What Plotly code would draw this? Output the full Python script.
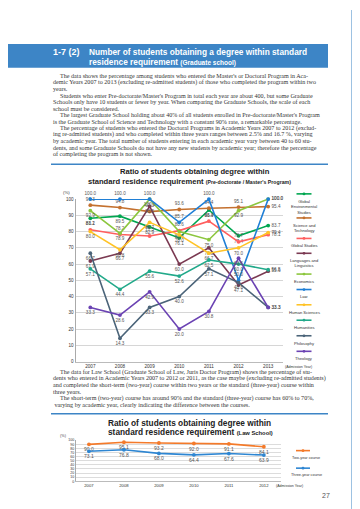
import plotly.graph_objects as go

W, H = 360, 509
def px(x): return x / W
def py(y): return 1 - y / H

SANS = "Liberation Sans, Arial, sans-serif"
NARROW = "Liberation Sans Narrow, Arial Narrow, Liberation Sans, sans-serif"
SERIF = "Liberation Serif, Times New Roman, serif"
BLUE = "#3d85c6"

# ---------------- data: chart 1 ----------------
years = ["2007", "2008", "2009", "2010", "2011", "2012", "2013"]
global_env = [88.2, 89.5, 82.9, 76.1, 93.3, 77.4, 83.7]
science_tech = [96.3, 94.8, 92.3, 93.6, 94.4, 95.1, 95.4]
global_studies = [81.1, 78.2, 77.3, 80.6, 86.4, 73.7, 78.1]
languages = [61.9, 66.7, 95.5, 60.0, 70.0, 47.1, 55.6]
economics = [92.9, 78.9, 100.0, 80.0, 75.0, 92.9, 100.0]
law = [100.0, 100.0, 100.0, 85.7, 100.0, 50.0, 100.0]
human_sciences = [80.0, 68.8, 85.7, 78.0, 66.7, 70.0, 79.4]
humanities = [57.1, 44.4, 55.6, 52.6, 62.5, 60.0, 56.5]
philosophy = [66.7, 14.3, 33.3, 40.0, 57.1, 48.6, 33.3]
theology = [33.3, 28.6, 42.9, 20.0, 30.8, 63.6, 33.3]

series_labels = ["Global<br>Environmental<br>Studies", "Science and<br>Technology", "Global Studies",
                 "Languages and<br>Linguistics", "Economics", "Law", "Human Sciences",
                 "Humanities", "Philosophy", "Theology"]

# ---------------- data: chart 2 ----------------
law_years = ["2007", "2008", "2009", "2010", "2011", "2012"]
two_year = [90.0, 95.1, 93.2, 92.0, 91.1, 84.1]
three_year = [73.1, 76.8, 68.0, 64.4, 67.6, 63.9]
law_labels = ["Two-year course", "Three-year course"]

# ---------------- styles ----------------
series_values = [global_env, science_tech, global_studies, languages, economics, law,
                 human_sciences, humanities, philosophy, theology]
series_colors = ["#00a650", "#c4712f", "#ff5f5f", "#7b3a52", "#8cc63e", "#1f7fd6",
                 "#ffc326", "#22a98a", "#4b6479", "#6b43b3"]
label_side = ["bottom center", "top center", "top center", "bottom center", "bottom center",
              "top center", "bottom center", "bottom center", "bottom center", "bottom center"]
legend_line_y = [185.7, 210, 230.7, 245.7, 266.7, 282.3, 297.7, 313.3, 329, 344.7]

fig = go.Figure()

for vals, col, side in zip(series_values, series_colors, label_side):
    pos = [side] * (len(vals) - 1) + ["middle right"]
    fig.add_trace(go.Scatter(
        x=years, y=vals, mode="lines+markers+text",
        text=[f"{v:.1f}" for v in vals], textposition=pos,
        textfont=dict(size=4.6, color="#555", family=SANS),
        line=dict(color=col, width=1.6), marker=dict(size=3.8, color=col),
        cliponaxis=False, showlegend=False, hoverinfo="skip",
        xaxis="x", yaxis="y"))

law_colors = ["#f47a2a", "#2e86d2"]
for vals, col in zip([two_year, three_year], law_colors):
    fig.add_trace(go.Scatter(
        x=law_years, y=vals, mode="lines+markers+text",
        text=[f"{v:.1f}" for v in vals], textposition="bottom center",
        textfont=dict(size=5, color="#555", family=SANS),
        line=dict(color=col, width=1.6), marker=dict(size=3.8, color=col),
        cliponaxis=False, showlegend=False, hoverinfo="skip",
        xaxis="x2", yaxis="y2"))

shapes = []
ann = []

# header band
shapes.append(dict(type="rect", xref="paper", yref="paper", x0=0, x1=px(320),
                   y0=py(58.3), y1=py(34.3), fillcolor=BLUE, line=dict(width=0), layer="below"))
ann.append(dict(x=px(43), y=py(42), text="<b>1-7 (2)</b>", xanchor="left", yanchor="middle",
                font=dict(size=9, color="white", family=SANS)))
ann.append(dict(x=px(79), y=py(42), text="<b>Number of students obtaining a degree within standard</b>",
                xanchor="left", yanchor="middle", font=dict(size=8.3, color="white", family=SANS)))
ann.append(dict(x=px(79), y=py(52.8),
                text="<b>residence requirement </b><span style='font-size:6.5px'><b>(Graduate school)</b></span>",
                xanchor="left", yanchor="middle", font=dict(size=8.3, color="white", family=SANS)))

# side strip and tab
shapes.append(dict(type="rect", xref="paper", yref="paper", x0=px(343.5), x1=1,
                   y0=0, y1=1, fillcolor=BLUE, line=dict(width=0), layer="below"))
shapes.append(dict(type="rect", xref="paper", yref="paper", x0=px(345), x1=1,
                   y0=py(162), y1=py(97), fillcolor="white", line=dict(width=0.6, color="#2f6fae"),
                   layer="below"))
ann.append(dict(x=px(351.5), y=py(130), text="<b>Sophia University</b>", textangle=90,
                xanchor="center", yanchor="middle", font=dict(size=4.6, color="#222", family=SANS)))

# body text block 1
block1 = [
    (True, "The data shows the percentage among students who entered the Master's or Doctoral Program in Aca-"),
    (False, "demic Years 2007 to 2013 (excluding re-admitted students) of those who completed the program within two"),
    (False, "years."),
    (True, "Students who enter Pre-doctorate/Master's Program in total each year are about 400, but some Graduate"),
    (False, "Schools only have 10 students or fewer by year. When comparing the Graduate Schools, the scale of each"),
    (False, "school must be considered."),
    (True, "The largest Graduate School holding about 40% of all students enrolled in Pre-doctorate/Master's Program"),
    (False, "is the Graduate School of Science and Technology with a constant 90% rate, a remarkable percentage."),
    (True, "The percentage of students who entered the Doctoral Programs in Academic Years 2007 to 2012 (exclud-"),
    (False, "ing re-admitted students) and who completed within three years ranges between 2.5% and 16.7 %, varying"),
    (False, "by academic year. The total number of students entering in each academic year vary between 40 to 60 stu-"),
    (False, "dents, and some Graduate Schools do not have any new students by academic year; therefore the percentage"),
    (False, "of completing the program is not shown."),
]
for i, (indent, line) in enumerate(block1):
    ann.append(dict(x=px(49.5 if indent else 43), y=py(67 + i * 6.55), text=line,
                    xanchor="left", yanchor="middle", font=dict(size=6.1, color="#333", family=SERIF)))

block2 = [
    (True, "The data for Law School (Graduate School of Law, Juris Doctor Program) shows the percentage of stu-"),
    (False, "dents who entered in Academic Years 2007 to 2012 or 2011, as the case maybe (excluding re-admitted students)"),
    (False, "and completed the short-term (two-year) course within two years or the standard (three-year) course within"),
    (False, "three years."),
    (True, "The short-term (two-year) course has around 90% and the standard (three-year) course has 60% to 70%,"),
    (False, " varying by academic year, clearly indicating the difference between the courses."),
]
for i, (indent, line) in enumerate(block2):
    ann.append(dict(x=px(49.5 if indent else 43), y=py(366 + i * 6.65), text=line,
                    xanchor="left", yanchor="middle", font=dict(size=6.1, color="#333", family=SERIF)))

# divider lines
for yy in (155.7, 407.7):
    shapes.append(dict(type="line", xref="paper", yref="paper", x0=px(43), x1=px(320),
                       y0=py(yy), y1=py(yy), line=dict(color=BLUE, width=1.5)))

# chart 1 title
ann.append(dict(x=px(187), y=py(163.5), text="<b>Ratio of students obtaining degree within</b>",
                xanchor="center", yanchor="middle", font=dict(size=7.6, color="#222", family=NARROW)))
ann.append(dict(x=px(181), y=py(173.5),
                text="<b>standard residence requirement </b><span style='font-size:5.2px'><b>(Pre-doctorate / Master's Program)</b></span>",
                xanchor="center", yanchor="middle", font=dict(size=7.6, color="#222", family=NARROW)))
ann.append(dict(x=px(58), y=py(184.3), text="(%)", xanchor="center", yanchor="middle",
                font=dict(size=4.4, color="#444", family=SANS)))
ann.append(dict(x=px(290), y=py(361), text="(Admission Year)", xanchor="center", yanchor="middle",
                font=dict(size=3.6, color="#333", family=SANS)))

# chart 1 legend (manual)
for lab, col, ly in zip(series_labels, series_colors, legend_line_y):
    shapes.append(dict(type="line", xref="paper", yref="paper", x0=px(288.5), x1=px(303.5),
                       y0=py(ly), y1=py(ly), line=dict(color=col, width=1.6)))
    shapes.append(dict(type="circle", xref="paper", yref="paper", x0=px(294.6), x1=px(297.4),
                       y0=py(ly + 1.4), y1=py(ly - 1.4), fillcolor=col, line=dict(width=0)))
    ann.append(dict(x=px(296), y=py(ly + 3), text=lab, xanchor="center", yanchor="top",
                    font=dict(size=4.1, color="#333", family=SANS), align="center"))

# chart 2 title and labels
ann.append(dict(x=px(181.5), y=py(417), text="<b>Ratio of students obtaining degree within</b>",
                xanchor="center", yanchor="middle", font=dict(size=8.3, color="#222", family=NARROW)))
ann.append(dict(x=px(182.5), y=py(426),
                text="<b>standard residence requirement </b><span style='font-size:5.8px'><b>(Law School)</b></span>",
                xanchor="center", yanchor="middle", font=dict(size=8.3, color="#222", family=NARROW)))
ann.append(dict(x=px(55), y=py(430.5), text="(%)", xanchor="center", yanchor="middle",
                font=dict(size=3.8, color="#444", family=SANS)))
ann.append(dict(x=px(281), y=py(481), text="(Admission Year)", xanchor="center", yanchor="middle",
                font=dict(size=3.6, color="#333", family=SANS)))
for lab, col, ly in zip(law_labels, law_colors, [445, 462.7]):
    shapes.append(dict(type="line", xref="paper", yref="paper", x0=px(288), x1=px(302),
                       y0=py(ly), y1=py(ly), line=dict(color=col, width=1.6)))
    shapes.append(dict(type="circle", xref="paper", yref="paper", x0=px(293.6), x1=px(296.4),
                       y0=py(ly + 1.4), y1=py(ly - 1.4), fillcolor=col, line=dict(width=0)))
    ann.append(dict(x=px(298), y=py(ly + 3), text=lab, xanchor="center", yanchor="top",
                    font=dict(size=3.8, color="#333", family=SANS)))

# page number
ann.append(dict(x=px(318), y=py(490), text="27", xanchor="center", yanchor="middle",
                font=dict(size=7, color="#555", family=SANS)))

for a in ann:
    a.setdefault("xref", "paper")
    a.setdefault("yref", "paper")
    a.setdefault("showarrow", False)

fig.update_layout(
    width=W, height=H, margin=dict(l=0, r=0, t=0, b=0),
    paper_bgcolor="white", plot_bgcolor="white",
    shapes=shapes, annotations=ann, showlegend=False,
    xaxis=dict(domain=[px(67.5), px(275)], range=[-0.5, 6.5], type="category", anchor="y",
               showgrid=False, showline=True, linecolor="#bbb", linewidth=1, ticks="",
               tickfont=dict(size=4.6, color="#333", family=SANS), fixedrange=True),
    yaxis=dict(domain=[py(355), py(191)], range=[0, 100], dtick=10, anchor="x",
               showgrid=True, gridcolor="#d6d6d6", gridwidth=1.4, showline=True,
               linecolor="#aaa", linewidth=1, zeroline=False, ticks="",
               tickfont=dict(size=4.6, color="#333", family=SANS), fixedrange=True),
    xaxis2=dict(domain=[px(68), px(273)], range=[-0.37, 5.49], type="category", anchor="y2",
                showgrid=False, showline=True, linecolor="#bbb", linewidth=1, ticks="",
                tickfont=dict(size=4.2, color="#333", family=SANS), fixedrange=True),
    yaxis2=dict(domain=[py(476), py(434.5)], range=[0, 100], dtick=10, anchor="x2",
                showgrid=True, gridcolor="#dcdcdc", gridwidth=1, showline=True,
                linecolor="#aaa", linewidth=1, zeroline=False, ticks="",
                tickfont=dict(size=3.6, color="#333", family=SANS), fixedrange=True),
)

fig.write_html("out.html")
